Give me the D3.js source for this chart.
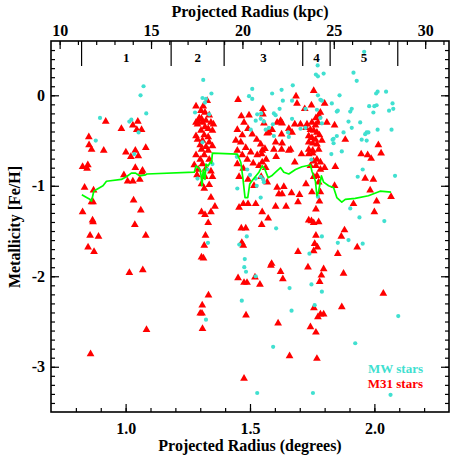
<!DOCTYPE html>
<html><head><meta charset="utf-8">
<script src="https://cdn.jsdelivr.net/npm/d3@7"></script>
<style>body{margin:0;background:#fff}svg{display:block}text{font-family:"Liberation Serif","Times New Roman",serif;font-weight:bold}</style>
</head><body><svg id="c" width="463" height="463"></svg>
<script>
// ---- data (degrees, [Fe/H]) ----
const m31Stars = [
[0.920,-0.29],[0.983,-0.37],[1.049,-0.29],[1.029,-0.33],[1.045,-0.38],[1.064,-0.38],[0.852,-0.46],[0.853,-0.55],[0.863,-0.60],[0.912,-0.61],
[1.001,-0.63],[1.039,-0.61],[1.081,-0.58],[1.021,-0.68],[1.051,-0.67],[0.827,-0.79],[0.848,-0.77],[0.845,-0.81],[1.039,-0.80],[1.068,-0.83],
[1.065,-0.85],[0.993,-0.88],[1.008,-0.95],[1.029,-0.95],[1.057,-0.93],[0.835,-1.02],[0.871,-1.05],[0.863,-1.18],[0.869,-1.18],[1.032,-1.16],
[0.827,-1.29],[0.867,-1.38],[0.869,-1.40],[1.061,-1.27],[1.037,-1.43],[0.857,-1.55],[0.891,-1.56],[1.081,-1.55],[0.849,-1.68],[0.873,-1.73],
[1.015,-1.96],[1.069,-1.93],[1.084,-2.59],[0.859,-2.86],
[1.283,-0.12],[1.312,-0.12],[1.328,-0.06],[1.303,-0.17],[1.319,-0.19],[1.336,-0.22],[1.296,-0.25],[1.305,-0.26],[1.283,-0.30],[1.292,-0.29],
[1.309,-0.30],[1.323,-0.28],[1.343,-0.30],[1.353,-0.32],[1.289,-0.32],[1.319,-0.35],[1.332,-0.37],[1.303,-0.39],[1.349,-0.39],[1.283,-0.45],
[1.316,-0.44],[1.332,-0.46],[1.289,-0.49],[1.309,-0.50],[1.336,-0.52],[1.300,-0.55],[1.323,-0.57],[1.349,-0.56],[1.305,-0.60],[1.332,-0.61],
[1.283,-0.66],[1.316,-0.66],[1.300,-0.71],[1.336,-0.71],[1.276,-0.77],[1.309,-0.76],[1.292,-0.82],[1.323,-0.81],[1.343,-0.84],[1.287,-0.88],
[1.319,-0.90],[1.349,-0.90],[1.305,-0.98],[1.336,-0.99],[1.316,-1.03],[1.343,-1.13],[1.359,-1.23],[1.305,-1.29],[1.343,-1.29],[1.319,-1.32],
[1.332,-1.41],[1.321,-1.55],[1.316,-1.66],[1.305,-1.79],[1.313,-1.80],[1.333,-2.21],[1.308,-2.32],[1.300,-2.41],[1.307,-2.41],[1.309,-2.58],
[1.452,-0.05],[1.465,-0.23],[1.496,-0.22],[1.476,-0.30],[1.449,-0.38],[1.492,-0.37],[1.469,-0.44],[1.509,-0.43],[1.443,-0.50],[1.463,-0.52],
[1.527,-0.49],[1.483,-0.58],[1.449,-0.61],[1.503,-0.63],[1.469,-0.66],[1.529,-0.66],[1.549,-0.61],[1.489,-0.71],[1.449,-0.76],[1.513,-0.75],
[1.473,-0.81],[1.536,-0.78],[1.456,-0.90],[1.545,-0.90],[1.492,-0.93],[1.516,-1.00],[1.473,-1.20],[1.492,-1.20],[1.456,-1.24],[1.523,-1.20],
[1.465,-1.47],[1.483,-1.47],[1.547,-1.43],[1.467,-1.63],[1.473,-1.66],[1.452,-2.02],[1.476,-2.07],[1.488,-2.07],[1.484,-2.43],[1.476,-3.13],
[1.552,-0.15],[1.685,-0.01],[1.756,0.05],[1.689,-0.09],[1.747,-0.11],[1.552,-0.21],[1.623,-0.28],[1.609,-0.30],[1.629,-0.31],[1.556,-0.31],
[1.703,-0.32],[1.680,-0.32],[1.729,-0.32],[1.749,-0.30],[1.763,-0.33],[1.773,-0.30],[1.809,-0.30],[1.840,-0.33],[1.576,-0.41],[1.589,-0.38],
[1.569,-0.42],[1.627,-0.43],[1.656,-0.37],[1.669,-0.41],[1.743,-0.38],[1.756,-0.39],[1.769,-0.41],[1.736,-0.45],[1.749,-0.47],[1.763,-0.49],
[1.779,-0.44],[1.543,-0.54],[1.603,-0.52],[1.629,-0.53],[1.736,-0.52],[1.752,-0.53],[1.769,-0.54],[1.789,-0.50],[1.560,-0.59],[1.596,-0.60],
[1.627,-0.60],[1.656,-0.61],[1.663,-0.60],[1.736,-0.60],[1.752,-0.61],[1.776,-0.60],[1.547,-0.65],[1.605,-0.68],[1.707,-0.65],[1.736,-0.65],
[1.752,-0.64],[1.565,-0.71],[1.549,-0.74],[1.680,-0.74],[1.769,-0.71],[1.756,-0.73],[1.783,-0.74],[1.743,-0.78],[1.765,-0.78],[1.800,-0.80],
[1.843,-0.79],[1.563,-0.80],[1.783,-0.82],[1.756,-0.90],[1.769,-0.89],[1.776,-0.96],[1.569,-0.96],[1.609,-1.02],[1.636,-1.01],[1.667,-1.08],
[1.616,-1.09],[1.629,-1.09],[1.699,-1.10],[1.749,-1.07],[1.783,-1.07],[1.840,-1.00],[1.603,-1.23],[1.645,-1.23],[1.693,-1.18],[1.549,-1.29],
[1.736,-1.38],[1.756,-1.41],[1.776,-1.40],
[1.800,-0.09],[1.783,-0.19],[1.776,-0.22],[1.720,-0.15],[1.725,-0.36],[1.765,-0.25],[1.883,-0.49],[2.016,-0.55],[2.027,-0.64],[1.947,-0.65],
[1.973,-0.66],[1.987,-0.70],[1.963,-0.92],[1.996,-0.93],[1.725,-0.98],[1.983,-1.05],[2.067,-1.12],[1.916,-1.20],[2.009,-1.17],[2.000,-1.29],
[1.765,-1.26],[1.779,-1.17],
[1.573,-1.36],[1.747,-1.39],[1.880,-1.49],[1.867,-1.56],[1.765,-1.55],[1.760,-1.64],[1.771,-1.68],[1.756,-1.72],[1.693,-1.73],[1.853,-1.75],
[1.931,-1.68],[1.587,-1.86],[1.584,-1.88],[1.623,-1.95],[1.733,-1.90],[1.796,-1.92],[1.876,-1.97],[1.787,-1.99],[1.632,-2.03],[1.520,-2.01],
[1.540,-2.09],[1.780,-2.06],[2.036,-2.19],[1.869,-2.34],[1.757,-2.35],[1.783,-2.42],[1.796,-2.42],[1.773,-2.45],[1.613,-2.52],[1.743,-2.56],
[1.765,-2.62],[1.659,-2.88],[1.769,-2.91]
];
const mwStars = [
[1.072,0.10],[1.060,0.00],[1.083,-0.20],[0.897,-0.25],[1.023,-0.27],[1.015,-0.29],[1.052,-0.41],[0.880,-0.50],[1.035,-0.65],
[1.312,0.17],[1.309,-0.03],[1.323,-0.04],[1.345,0.02],[1.319,-0.08],[1.279,-0.19],[1.336,-0.21],[1.309,-0.52],[1.349,-0.76],[1.289,-0.92],
[1.329,-0.82],[1.331,-1.63],[1.323,-2.48],
[1.509,0.07],[1.496,-0.01],[1.509,-0.04],[1.529,-0.21],[1.545,-0.20],[1.523,-0.28],[1.543,-0.26],[1.503,-0.38],[1.447,-0.68],[1.489,-0.82],
[1.523,-0.92],[1.500,-0.88],[1.449,-1.03],[1.527,-1.00],[1.553,-0.93],[1.487,-1.56],[1.457,-1.65],[1.479,-1.81],[1.477,-1.90],[1.484,-1.95],
[1.523,-2.00],[1.467,-2.27],[1.529,-3.29],
[1.765,0.23],[1.773,0.21],[1.796,0.24],[1.672,0.11],[1.627,0.06],[1.589,0.02],[1.632,-0.06],[1.669,-0.06],[1.773,0.00],[1.783,-0.05],
[1.789,-0.06],[1.829,-0.09],[1.849,-0.18],[1.619,-0.15],[1.723,-0.15],[1.769,-0.16],[1.596,-0.20],[1.603,-0.22],[1.669,-0.26],[1.783,-0.25],
[1.789,-0.31],[1.556,-0.29],[1.592,-0.32],[1.576,-0.36],[1.563,-0.38],[1.723,-0.36],[1.703,-0.37],[1.653,-0.41],[1.596,-0.45],[1.656,-0.46],
[1.836,-0.48],[1.849,-0.45],[1.836,-0.53],[1.827,-0.65],[1.747,-0.71],[1.543,-0.90],[1.556,-0.96],[1.543,-1.13],[1.773,-1.12],[1.605,-1.47],
[1.772,0.33],[1.916,0.25],[1.929,0.16],[1.959,0.48],[1.860,0.00],[1.853,-0.17],[1.909,-0.15],[1.903,-0.18],[2.013,0.04],[2.007,0.02],
[2.047,0.04],[1.979,-0.12],[2.000,-0.12],[2.009,-0.11],[1.996,-0.19],[2.073,-0.09],[2.076,-0.15],[2.059,-0.17],[1.896,-0.29],[1.943,-0.30],
[1.909,-0.36],[1.876,-0.41],[1.969,-0.41],[1.976,-0.41],[1.963,-0.43],[2.013,-0.38],[2.069,-0.38],[1.832,-0.49],[1.949,-0.49],[1.969,-0.50],
[1.869,-0.62],[1.953,-0.82],[1.933,-0.90],[2.083,-0.89],[1.903,-1.25],[1.940,-1.35],
[2.040,-1.39],[1.789,-1.56],[1.853,-1.63],[1.896,-1.60],[1.953,-1.64],[1.739,-1.75],[1.747,-2.09],[1.659,-2.13],[1.789,-2.17],[1.760,-2.32],
[1.667,-2.38],[2.096,-2.44],[1.923,-2.74],[1.593,-2.78],[1.753,-3.29],[2.065,-3.31]
];
const meanLine = [
[0.824,-1.10],[0.843,-1.13],[0.856,-1.15],[0.863,-1.17],[0.872,-1.06],[0.883,-1.04],[0.909,-1.00],[0.923,-0.95],[0.983,-0.93],[1.003,-0.90],
[1.023,-0.86],[1.040,-0.86],[1.056,-0.89],[1.080,-0.88],[1.085,-0.87],[1.276,-0.85],[1.283,-0.78],[1.292,-0.80],[1.299,-0.82],[1.303,-0.88],
[1.307,-1.00],[1.312,-0.82],[1.319,-0.93],[1.323,-0.76],[1.332,-0.78],[1.340,-0.74],[1.345,-0.75],[1.349,-0.64],[1.449,-0.65],[1.463,-0.74],
[1.472,-0.93],[1.480,-1.13],[1.491,-1.13],[1.499,-0.98],[1.512,-0.93],[1.536,-0.85],[1.549,-0.78],[1.560,-0.82],[1.573,-0.91],[1.587,-0.89],
[1.603,-0.85],[1.623,-0.80],[1.636,-0.85],[1.656,-0.87],[1.683,-0.82],[1.709,-0.79],[1.743,-0.77],[1.749,-0.84],[1.763,-0.95],[1.769,-1.11],
[1.776,-1.06],[1.787,-0.89],[1.796,-0.96],[1.816,-1.00],[1.836,-1.02],[1.849,-1.13],[1.869,-1.18],[1.883,-1.15],[1.923,-1.14],[1.976,-1.11],
[2.023,-1.06],[2.067,-1.07]
];
const regionEdgesKpc = [11.2, 16.1, 19.0, 23.3, 24.8, 28.5];
const regionLabels = ["1","2","3","4","5"];
const degTicks = [1.0, 1.5, 2.0];
const fehTicks = [0, -1, -2, -3];
const kpcTicks = [10, 15, 20, 25, 30];
const kpcPerDeg = 13.61;
const legendLabels = ["MW stars", "M31 stars"];

// ---- layout ----
const svg = d3.select("#c");
const L = 51, R = 449, T = 41, B = 412;
const x = d3.scaleLinear().domain([0.7, 2.3]).range([L, R]);
const xk = d3.scaleLinear().domain([0.7 * kpcPerDeg, 2.3 * kpcPerDeg]).range([L, R]);
const y = d3.scaleLinear().domain([-3.5, 0.6]).range([B, T]);
const MAJ = 8, MIN = 4;
const font = 16;

function styleAxis(g) {
  g.select(".domain").remove();
  g.selectAll(".tick line").attr("stroke", "#000").attr("stroke-width", 1.2);
  g.selectAll("text").attr("font-size", font).attr("fill", "#000")
   .attr("font-family", "Liberation Serif").attr("font-weight", "bold");
}
const minorDeg = d3.range(8, 23).map(v => v / 10);
const minorFeh = d3.range(-34, 6).map(v => v / 10);
const minorKpc = d3.range(10, 32);

// bottom
svg.append("g").attr("transform", `translate(0,${B})`)
  .call(d3.axisBottom(x).tickValues(minorDeg).tickSize(-MIN).tickFormat("")).call(styleAxis);
svg.append("g").attr("transform", `translate(0,${B})`)
  .call(d3.axisBottom(x).tickValues(degTicks).tickSize(-MAJ).tickPadding(11).tickFormat(d3.format(".1f"))).call(styleAxis);
// top (kpc)
svg.append("g").attr("transform", `translate(0,${T})`)
  .call(d3.axisTop(xk).tickValues(minorKpc).tickSize(-MIN).tickFormat("")).call(styleAxis);
svg.append("g").attr("transform", `translate(0,${T})`)
  .call(d3.axisTop(xk).tickValues(kpcTicks).tickSize(-MAJ).tickPadding(5).tickFormat(d3.format("d"))).call(styleAxis);
// left
svg.append("g").attr("transform", `translate(${L},0)`)
  .call(d3.axisLeft(y).tickValues(minorFeh).tickSize(-MIN).tickFormat("")).call(styleAxis);
svg.append("g").attr("transform", `translate(${L},0)`)
  .call(d3.axisLeft(y).tickValues(fehTicks).tickSize(-MAJ).tickPadding(6).tickFormat(d => d === 0 ? "0" : "-" + Math.abs(d))).call(styleAxis);
// right
svg.append("g").attr("transform", `translate(${R},0)`)
  .call(d3.axisRight(y).tickValues(minorFeh).tickSize(-MIN).tickFormat("")).call(styleAxis);
svg.append("g").attr("transform", `translate(${R},0)`)
  .call(d3.axisRight(y).tickValues(fehTicks).tickSize(-MAJ).tickFormat("")).call(styleAxis);

// frame
svg.append("rect").attr("x", L).attr("y", T).attr("width", R - L).attr("height", B - T)
  .attr("fill", "none").attr("stroke", "#000").attr("stroke-width", 1.6);

// region boundaries
svg.append("g").selectAll("line").data(regionEdgesKpc).join("line")
  .attr("x1", d => xk(d)).attr("x2", d => xk(d)).attr("y1", T).attr("y2", T + 25)
  .attr("stroke", "#000").attr("stroke-width", 1.2);
svg.append("g").selectAll("text").data(regionLabels).join("text")
  .attr("x", (d, i) => (xk(regionEdgesKpc[i]) + xk(regionEdgesKpc[i + 1])) / 2)
  .attr("y", T + 21).attr("text-anchor", "middle").attr("font-size", 13).text(d => d);

// points
const plot = svg.append("g");
plot.selectAll("path.m31").data(m31Stars).join("path").attr("class", "m31")
  .attr("transform", d => `translate(${x(d[0])},${y(d[1])})`)
  .attr("d", d3.symbol(d3.symbolTriangle, 26)).attr("fill", "#ff0000");
plot.selectAll("circle.mw").data(mwStars).join("circle").attr("class", "mw")
  .attr("cx", d => x(d[0])).attr("cy", d => y(d[1])).attr("r", 2.1).attr("fill", "#40e0d0");
plot.append("path").datum(meanLine)
  .attr("d", d3.line().x(d => x(d[0])).y(d => y(d[1])))
  .attr("fill", "none").attr("stroke", "#00ff00").attr("stroke-width", 1.7).attr("stroke-linejoin", "round");

// titles
svg.append("text").attr("x", 250).attr("y", 451).attr("text-anchor", "middle").attr("font-size", font)
  .text("Projected Radius (degrees)");
svg.append("text").attr("x", 250).attr("y", 17).attr("text-anchor", "middle").attr("font-size", font)
  .text("Projected Radius (kpc)");
svg.append("text").attr("transform", "translate(20,227) rotate(-90)").attr("text-anchor", "middle")
  .attr("font-size", font).text("Metallicity [Fe/H]");

// legend
svg.append("text").attr("x", 423).attr("y", 373).attr("text-anchor", "end").attr("font-size", 13)
  .attr("fill", "#40e0d0").text(legendLabels[0]);
svg.append("text").attr("x", 423).attr("y", 388).attr("text-anchor", "end").attr("font-size", 13)
  .attr("fill", "#ff0000").text(legendLabels[1]);
</script></body></html>
